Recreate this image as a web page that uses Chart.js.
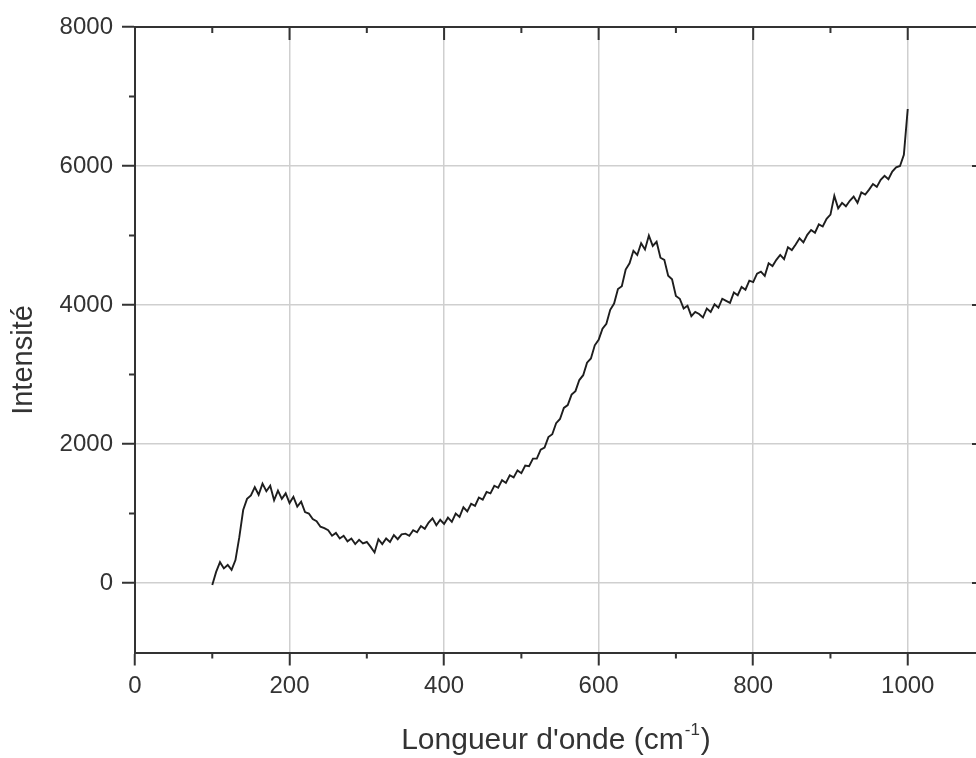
<!DOCTYPE html>
<html lang="fr">
<head>
<meta charset="utf-8">
<title>Spectre</title>
<script src="https://cdn.jsdelivr.net/npm/chart.js@4.4.1/dist/chart.umd.min.js"></script>
<style>
  html, body { margin: 0; padding: 0; background: #fff; overflow: hidden; }
  #wrap { width: 1000px; height: 758px; }
</style>
</head>
<body>
<div id="wrap"><canvas id="spectre" width="1000" height="758"></canvas></div>
<script>
// nombre d'onde (cm-1)
const waveNumbers = [
  100, 105, 110, 115, 120, 125, 130, 135, 140, 145, 150, 155, 160, 165, 170, 175, 180, 185, 190, 195,
  200, 205, 210, 215, 220, 225, 230, 235, 240, 245, 250, 255, 260, 265, 270, 275, 280, 285, 290, 295,
  300, 305, 310, 315, 320, 325, 330, 335, 340, 345, 350, 355, 360, 365, 370, 375, 380, 385, 390, 395,
  400, 405, 410, 415, 420, 425, 430, 435, 440, 445, 450, 455, 460, 465, 470, 475, 480, 485, 490, 495,
  500, 505, 510, 515, 520, 525, 530, 535, 540, 545, 550, 555, 560, 565, 570, 575, 580, 585, 590, 595,
  600, 605, 610, 615, 620, 625, 630, 635, 640, 645, 650, 655, 660, 665, 670, 675, 680, 685, 690, 695,
  700, 705, 710, 715, 720, 725, 730, 735, 740, 745, 750, 755, 760, 765, 770, 775, 780, 785, 790, 795,
  800, 805, 810, 815, 820, 825, 830, 835, 840, 845, 850, 855, 860, 865, 870, 875, 880, 885, 890, 895,
  900, 905, 910, 915, 920, 925, 930, 935, 940, 945, 950, 955, 960, 965, 970, 975, 980, 985, 990, 995,
  1000
];

// intensité
const intensity = [
  -30, 160, 300, 210, 260, 190, 330, 660, 1050, 1210, 1260, 1380, 1270, 1430, 1320, 1400, 1190, 1330, 1210, 1290,
  1150, 1240, 1100, 1170, 1020, 1000, 920, 890, 810, 790, 760, 680, 720, 640, 680, 600, 640, 560, 620, 570,
  590, 520, 440, 630, 560, 640, 590, 690, 630, 700, 710, 680, 760, 730, 820, 780, 870, 930, 830, 910,
  850, 940, 880, 1000, 950, 1090, 1030, 1140, 1110, 1230, 1200, 1310, 1290, 1400, 1370, 1480, 1440, 1550, 1520, 1620,
  1580, 1690, 1680, 1790, 1790, 1920, 1950, 2100, 2140, 2300, 2360, 2520, 2560, 2710, 2760, 2920, 2990, 3170, 3230, 3420,
  3500, 3660, 3730, 3930, 4020, 4230, 4270, 4510, 4600, 4780, 4720, 4890, 4800, 5000, 4850, 4910, 4680, 4650, 4420, 4370,
  4130, 4090, 3950, 3990, 3840, 3900, 3870, 3820, 3950, 3900, 4010, 3960, 4090, 4060, 4030, 4180, 4140, 4260, 4220, 4350,
  4330, 4450, 4480, 4420, 4600, 4560, 4650, 4720, 4660, 4830, 4790, 4870, 4960, 4900, 5010, 5080, 5040, 5160, 5130, 5240,
  5300, 5570, 5390, 5470, 5420, 5500, 5560, 5470, 5620, 5590, 5660, 5740, 5700, 5800, 5860, 5810, 5920, 5980, 6000, 6160,
  6820
];

const xTicks = [0, 200, 400, 600, 800, 1000];
const xMinorTicks = [100, 300, 500, 700, 900];
const yTicks = [0, 2000, 4000, 6000, 8000];
const yMinorTicks = [1000, 3000, 5000, 7000];

const FONT = '"Liberation Sans", Arial, sans-serif';
const INK = '#333';

// petits traits + traits intérieurs haut/droite + titres d'axes
const frameExtras = {
  id: 'frameExtras',
  afterDraw(chart) {
    const { ctx, chartArea: a } = chart;
    const x = chart.scales.x, y = chart.scales.y;
    ctx.save();
    ctx.strokeStyle = INK;
    ctx.lineWidth = 2;
    ctx.beginPath();
    xTicks.forEach(v => {
      const px = x.getPixelForValue(v);
      ctx.moveTo(px, a.top); ctx.lineTo(px, a.top + 13);
    });
    xMinorTicks.forEach(v => {
      const px = x.getPixelForValue(v);
      ctx.moveTo(px, a.bottom); ctx.lineTo(px, a.bottom + 6);
      ctx.moveTo(px, a.top); ctx.lineTo(px, a.top + 6);
    });
    yTicks.forEach(v => {
      const py = y.getPixelForValue(v);
      ctx.moveTo(a.right, py); ctx.lineTo(a.right - 13, py);
    });
    yMinorTicks.forEach(v => {
      const py = y.getPixelForValue(v);
      ctx.moveTo(a.left - 6, py); ctx.lineTo(a.left, py);
      ctx.moveTo(a.right - 6, py); ctx.lineTo(a.right, py);
    });
    ctx.stroke();

    // titre axe y
    ctx.fillStyle = INK;
    ctx.font = '29px ' + FONT;
    ctx.textAlign = 'center';
    ctx.textBaseline = 'middle';
    ctx.translate(24, 360);
    ctx.rotate(-Math.PI / 2);
    ctx.fillText('Intensité', 0, 0);
    ctx.setTransform(1, 0, 0, 1, 0, 0);

    // titre axe x avec exposant
    const main = "Longueur d'onde (cm";
    const sup = '-1';
    const end = ')';
    ctx.textAlign = 'left';
    ctx.textBaseline = 'alphabetic';
    ctx.font = '30px ' + FONT;
    const w1 = ctx.measureText(main).width;
    const w3 = ctx.measureText(end).width;
    ctx.font = '17px ' + FONT;
    const w2 = ctx.measureText(sup).width;
    const total = w1 + w2 + w3 + 2;
    let cx = 556 - total / 2;
    const base = 749;
    ctx.font = '30px ' + FONT;
    ctx.fillText(main, cx, base);
    cx += w1 + 1;
    ctx.font = '17px ' + FONT;
    ctx.fillText(sup, cx, base - 14);
    cx += w2 + 1;
    ctx.font = '30px ' + FONT;
    ctx.fillText(end, cx, base);
    ctx.restore();
  }
};

const points = waveNumbers.map((w, i) => ({ x: w, y: intensity[i] }));

new Chart(document.getElementById('spectre'), {
  type: 'line',
  data: {
    datasets: [{
      data: points,
      borderColor: '#1e1e1e',
      borderWidth: 1.9,
      pointRadius: 0,
      tension: 0,
      fill: false
    }]
  },
  options: {
    responsive: false,
    animation: false,
    layout: { padding: { top: 27, right: 15, bottom: 0, left: 0 } },
    plugins: { legend: { display: false }, tooltip: { enabled: false } },
    scales: {
      x: {
        type: 'linear',
        min: 0,
        max: 1100,
        afterBuildTicks: s => { s.ticks = xTicks.map(v => ({ value: v })); },
        afterFit: s => { s.height = 105.5; },
        grid: { color: '#cfcfcf', lineWidth: 1.5, tickColor: INK, tickLength: 13, tickWidth: 2 },
        border: { color: INK, width: 2 },
        ticks: { color: INK, font: { family: FONT, size: 24 }, padding: 6, maxRotation: 0,
                 callback: v => String(v) }
      },
      y: {
        type: 'linear',
        min: -1000,
        max: 8000,
        afterBuildTicks: s => { s.ticks = yTicks.map(v => ({ value: v })); },
        afterFit: s => { s.width = 135; },
        grid: { color: '#cfcfcf', lineWidth: 1.5, tickColor: INK, tickLength: 13, tickWidth: 2 },
        border: { color: INK, width: 2 },
        ticks: { color: INK, font: { family: FONT, size: 24 }, padding: 9,
                 callback: v => String(v) }
      },
      x2: {
        type: 'linear',
        position: 'top',
        min: 0,
        max: 1100,
        afterFit: s => { s.height = 0; },
        grid: { drawOnChartArea: false, drawTicks: false },
        border: { color: INK, width: 2 },
        ticks: { display: false }
      },
      y2: {
        type: 'linear',
        position: 'right',
        min: -1000,
        max: 8000,
        afterFit: s => { s.width = 0; },
        grid: { drawOnChartArea: false, drawTicks: false },
        border: { color: INK, width: 2 },
        ticks: { display: false }
      }
    }
  },
  plugins: [frameExtras]
});
</script>
</body>
</html>
